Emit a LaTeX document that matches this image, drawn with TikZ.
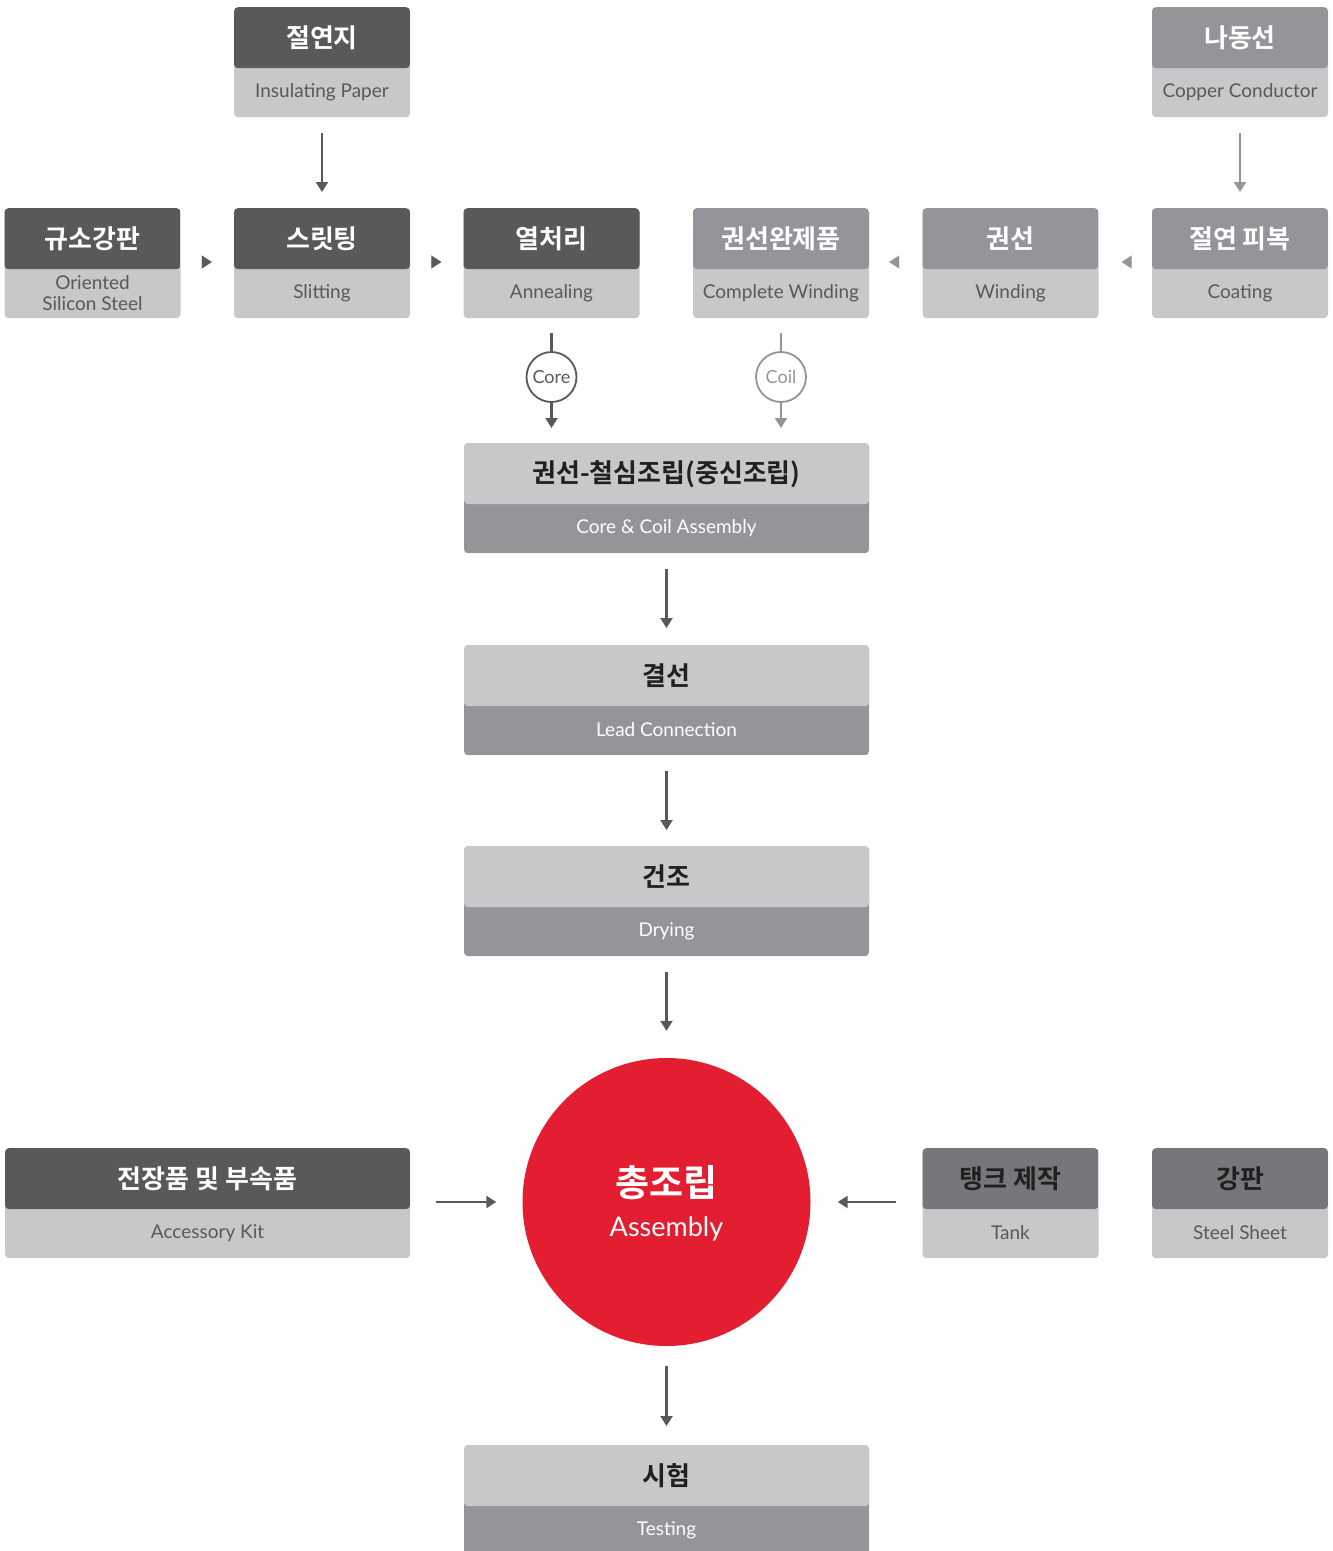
\documentclass[tikz,border=0pt]{standalone}
\usepackage{fontspec}
\setmainfont{Lato}
\newfontfamily\kr{Noto Sans CJK KR}[BoldFont={Noto Sans CJK KR Bold}]
\usetikzlibrary{arrows.meta}
\definecolor{cdark}{HTML}{58595B}
\definecolor{cmed}{HTML}{939598}
\definecolor{clight}{HTML}{C7C8CA}
\definecolor{ctank}{HTML}{76777A}
\definecolor{cred}{HTML}{E31E30}
\definecolor{ctxt}{HTML}{231F20}
\definecolor{cetxt}{HTML}{58595B}
\tikzset{
  box/.style={rounded corners=4pt, minimum width=176pt, minimum height=110pt, inner sep=0pt, anchor=north},
  wide/.style={box, minimum width=405pt},
  hdr/.style={path picture={\fill[#1] (path picture bounding box.north west) rectangle ([yshift=-61pt]path picture bounding box.north east);}},
  kt/.style={font=\kr\bfseries\fontsize{26}{30}\selectfont, inner sep=0pt},
  et/.style={font=\fontsize{19}{22}\selectfont, inner sep=0pt, align=center},
  arr/.style={line width=2.2pt, draw=cdark, -{Triangle[width=12pt,length=10pt]}},
  arrl/.style={arr, draw=cmed},
  tri/.style={draw=#1, line width=0.1pt, -{Triangle[width=13pt,length=10pt]}},
  ring/.style={circle, draw=#1, line width=1.8pt, fill=white, minimum size=50pt, inner sep=0pt, font=\fontsize{18}{20}\selectfont, text=#1},
}
\newcommand{\boxtext}[5]{%
  \node[kt, text=#3] at ([yshift=-31pt]#1.north) {#2};
  \node[et, text=#5] at ([yshift=-85pt]#1.north) {#4};}
\begin{document}
\begin{tikzpicture}[x=1pt, y=-1pt]
\useasboundingbox (0,0) rectangle (1333,1551);
% top row
\node[box, hdr=cdark, fill=clight] (paper) at (322,7) {};
\node[box, hdr=cmed, fill=clight] (copper) at (1240,7) {};
% second row
\node[box, hdr=cdark, fill=clight] (oss) at (92.5,208) {};
\node[box, hdr=cdark, fill=clight] (slit) at (322,208) {};
\node[box, hdr=cdark, fill=clight] (anneal) at (551.5,208) {};
\node[box, hdr=cmed, fill=clight] (cwind) at (781,208) {};
\node[box, hdr=cmed, fill=clight] (wind) at (1010.5,208) {};
\node[box, hdr=cmed, fill=clight] (coat) at (1240,208) {};
% centre column
\node[wide, hdr=clight, fill=cmed] (ccasm) at (666.5,443) {};
\node[wide, hdr=clight, fill=cmed] (lead) at (666.5,645) {};
\node[wide, hdr=clight, fill=cmed] (dry) at (666.5,846) {};
\node[circle, fill=cred, minimum size=288pt, inner sep=0pt] (asm) at (666.5,1202) {};
\node[wide, hdr=clight, fill=cmed] (test) at (666.5,1445) {};
% bottom sides
\node[wide, hdr=cdark, fill=clight] (acc) at (207.5,1148) {};
\node[box, hdr=ctank, fill=clight] (tank) at (1010.5,1148) {};
\node[box, hdr=ctank, fill=clight] (steel) at (1240,1148) {};
% texts
\boxtext{paper}{절연지}{white}{Insulating Paper}{cetxt}
\boxtext{copper}{나동선}{white}{Copper Conductor}{cetxt}
\boxtext{oss}{규소강판}{white}{Oriented\\[-1pt]Silicon Steel}{cetxt}
\boxtext{slit}{스릿팅}{white}{Slitting}{cetxt}
\boxtext{anneal}{열처리}{white}{Annealing}{cetxt}
\boxtext{cwind}{권선완제품}{white}{Complete Winding}{cetxt}
\boxtext{wind}{권선}{white}{Winding}{cetxt}
\boxtext{coat}{절연 피복}{white}{Coating}{cetxt}
\boxtext{ccasm}{권선-철심조립(중신조립)}{ctxt}{Core \& Coil Assembly}{white}
\boxtext{lead}{결선}{ctxt}{Lead Connection}{white}
\boxtext{dry}{건조}{ctxt}{Drying}{white}
\boxtext{test}{시험}{ctxt}{Testing}{white}
\boxtext{acc}{전장품 및 부속품}{white}{Accessory Kit}{cetxt}
\boxtext{tank}{탱크 제작}{ctxt}{Tank}{cetxt}
\boxtext{steel}{강판}{ctxt}{Steel Sheet}{cetxt}
\node[font=\kr\bfseries\fontsize{37}{40}\selectfont, text=white, inner sep=0pt] (asmk) at (666.5,1183) {총조립};
\node[font=\fontsize{27}{30}\selectfont, text=white, inner sep=0pt] (asme) at (666.5,1229) {Assembly};
% vertical arrows top
\draw[arr, shorten <=16pt, shorten >=16pt] (paper.south) -- (slit.north);
\draw[arrl, shorten <=16pt, shorten >=16pt] (copper.south) -- (coat.north);
% row triangles
\draw[tri=cdark, shorten <=22pt, shorten >=22pt] ([yshift=-54pt]oss.north east) -- ([yshift=-54pt]slit.north west);
\draw[tri=cdark, shorten <=22pt, shorten >=22pt] ([yshift=-54pt]slit.north east) -- ([yshift=-54pt]anneal.north west);
\draw[tri=cmed, shorten <=24pt, shorten >=20pt] ([yshift=-54pt]wind.north west) -- ([yshift=-54pt]cwind.north east);
\draw[tri=cmed, shorten <=21pt, shorten >=23pt] ([yshift=-54pt]coat.north west) -- ([yshift=-54pt]wind.north east);
% core and coil rings
\node[ring=cdark] (core) at (551.5,377) {Core};
\node[ring=cmed] (coil) at (781,377) {Coil};
\draw[line width=2.2pt, draw=cdark, shorten <=15pt] (anneal.south) -- (core.north);
\draw[arr] (core.south) -- ([yshift=15pt]core.south |- ccasm.north);
\draw[line width=2.2pt, draw=cmed, shorten <=15pt] (cwind.south) -- (coil.north);
\draw[arrl] (coil.south) -- ([yshift=15pt]coil.south |- ccasm.north);
% centre arrows
\draw[arr, shorten <=16pt, shorten >=17pt] (ccasm.south) -- (lead.north);
\draw[arr, shorten <=16pt, shorten >=16pt] (lead.south) -- (dry.north);
\draw[arr, shorten <=16pt, shorten >=27pt] (dry.south) -- (asm.north);
\draw[arr, shorten <=20pt, shorten >=19pt] (asm.south) -- (test.north);
% side arrows
\draw[arr, shorten <=26pt, shorten >=26pt] ([yshift=-54pt]acc.north east) -- (asm.west);
\draw[arr, shorten <=26pt, shorten >=27pt] ([yshift=-54pt]tank.north west) -- (asm.east);
\end{tikzpicture}
\end{document}
